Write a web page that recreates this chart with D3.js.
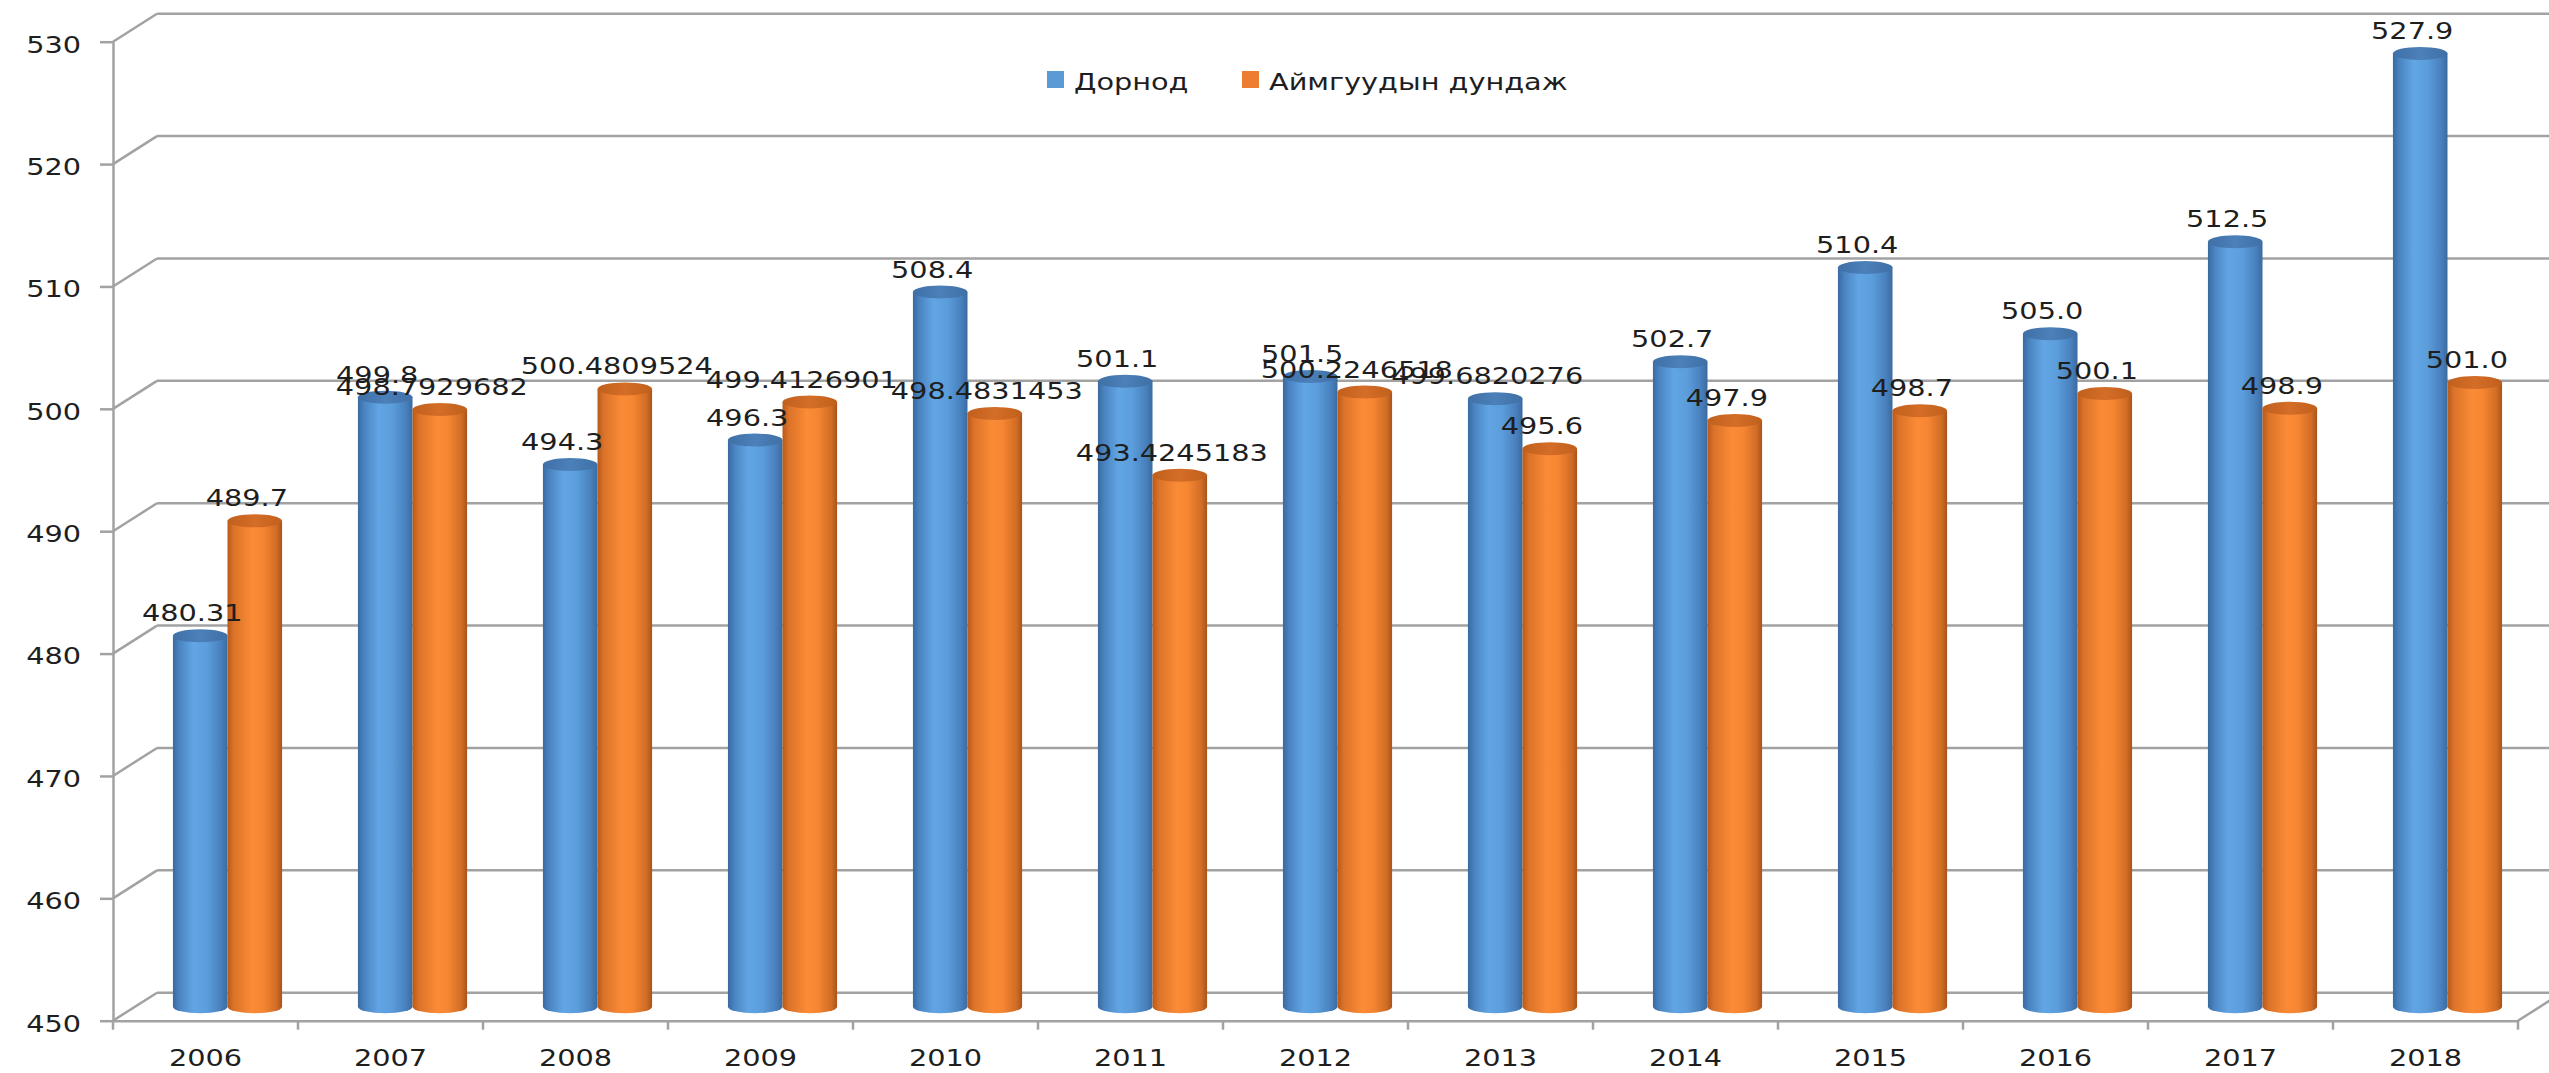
<!DOCTYPE html>
<html>
<head>
<meta charset="utf-8">
<script src="https://cdn.jsdelivr.net/npm/d3@7/dist/d3.min.js"></script>
<style>
  html, body { margin: 0; padding: 0; background: #ffffff; }
  svg { display: block; }
  text { font-family: "DejaVu Sans", Verdana, sans-serif; }
</style>
</head>
<body>
<svg id="chart" width="2549" height="1073"></svg>
<script>
// ---------------- data ----------------
const years = ["2006","2007","2008","2009","2010","2011","2012","2013","2014","2015","2016","2017","2018"];
const seriesNames = ["Дорнод", "Аймгуудын дундаж"];
const dornod = [480.31, 499.8, 494.3, 496.3, 508.4, 501.1, 501.5, 499.6820276, 502.7, 510.4, 505.0, 512.5, 527.9];
const average = [489.7, 498.7929682, 500.4809524, 499.4126901, 498.4831453, 493.4245183, 500.2246518, 495.6, 497.9, 498.7, 500.1, 498.9, 501.0];
const dornodLabels = ["480.31","499.8","494.3","496.3","508.4","501.1","501.5","499.6820276","502.7","510.4","505.0","512.5","527.9"];
const averageLabels = ["489.7","498.7929682","500.4809524","499.4126901","498.4831453","493.4245183","500.2246518","495.6","497.9","498.7","500.1","498.9","501.0"];
const yTicks = [450, 460, 470, 480, 490, 500, 510, 520, 530];

// ---------------- layout ----------------
const W = 2549, H = 1073;
const X0 = 113, X1 = 2518, YB = 1020.7, YT = 41.7;
const DX = 44, DY = -28;          // 3D depth offset
const SX = 1.25;                  // horizontal text stretch of the original
const FONT = 23;
const GRID = "#a2a2a2";
const TXT = "#1e1e1e";

const svg = d3.select("#chart");

const y = d3.scaleLinear().domain([450, 530]).range([YB, YT]);
const x = d3.scaleBand().domain(years).range([X0, X1]).paddingInner(0.41).paddingOuter(0.205);
const xs = d3.scaleBand().domain(["d", "a"]).range([0, x.bandwidth()]);

// ---------------- gradients ----------------
const defs = svg.append("defs");
function grad(id, stops) {
  const g = defs.append("linearGradient").attr("id", id).attr("x1", 0).attr("x2", 1).attr("y1", 0).attr("y2", 0);
  stops.forEach(s => g.append("stop").attr("offset", s[0]).attr("stop-color", s[1]));
}
grad("gBlue", [[0, "#3a6aa0"], [0.12, "#4a84c2"], [0.38, "#62a5e4"], [0.62, "#5c9edc"], [0.88, "#4880bd"], [1, "#3b6b9f"]]);
grad("gOrange", [[0, "#b85a1b"], [0.12, "#dc7329"], [0.45, "#fb8b36"], [0.65, "#f68632"], [0.9, "#d06c25"], [1, "#a9531a"]]);
grad("gBlueTop", [[0, "#3f70a6"], [0.5, "#4c80b9"], [1, "#3f70a6"]]);
grad("gOrangeTop", [[0, "#c0601d"], [0.5, "#d46d27"], [1, "#c0601d"]]);

// ---------------- walls / gridlines ----------------
const grid = svg.append("g");
yTicks.forEach(t => {
  grid.append("line")
    .attr("x1", X0 + DX).attr("x2", W + 30)
    .attr("y1", y(t) + DY).attr("y2", y(t) + DY)
    .attr("stroke", GRID).attr("stroke-width", 2.5);
  grid.append("line")
    .attr("x1", X0).attr("y1", y(t))
    .attr("x2", X0 + DX).attr("y2", y(t) + DY)
    .attr("stroke", GRID).attr("stroke-width", 2.5);
});
// right floor edge
grid.append("line")
  .attr("x1", X1).attr("y1", y(450))
  .attr("x2", X1 + DX).attr("y2", y(450) + DY)
  .attr("stroke", GRID).attr("stroke-width", 2.5);

// ---------------- axes ----------------
const yAxis = d3.axisLeft(y).tickValues(yTicks).tickSize(13).tickSizeOuter(0).tickFormat(d3.format("d"));
const gy = svg.append("g").attr("transform", `translate(${X0},0)`).call(yAxis);
gy.select(".domain").attr("stroke", GRID).attr("stroke-width", 2.5);
gy.selectAll(".tick line").attr("stroke", GRID).attr("stroke-width", 2.5);
gy.selectAll(".tick text")
  .attr("x", -32 / SX).attr("dy", "0.45em")
  .attr("transform", `scale(${SX},1)`)
  .attr("fill", TXT).style("font-size", FONT + "px").style("font-family", "DejaVu Sans, Verdana, sans-serif");

const xAxis = d3.axisBottom(x).tickSize(0).tickSizeOuter(0);
const gx = svg.append("g").attr("transform", `translate(0,${YB})`).call(xAxis);
gx.select(".domain").attr("stroke", GRID).attr("stroke-width", 2.5);
gx.selectAll(".tick text")
  .attr("y", 45).attr("dy", 0)
  .attr("transform", `scale(${SX},1)`)
  .attr("fill", TXT).style("font-size", FONT + "px").style("font-family", "DejaVu Sans, Verdana, sans-serif");
// category boundary ticks
const boundaries = d3.range(years.length + 1).map(i => X0 + i * x.step());
gx.selectAll(".btick").data(boundaries).join("line")
  .attr("class", "btick")
  .attr("x1", d => d).attr("x2", d => d)
  .attr("y1", 0).attr("y2", 9)
  .attr("stroke", GRID).attr("stroke-width", 2.5);

// ---------------- cylinders ----------------
const rx = xs.bandwidth() / 2;
const ry = 6.5;
const bars = [];
years.forEach((yr, i) => {
  bars.push({ yr, key: "d", v: dornod[i], label: dornodLabels[i], body: "url(#gBlue)", top: "url(#gBlueTop)" });
  bars.push({ yr, key: "a", v: average[i], label: averageLabels[i], body: "url(#gOrange)", top: "url(#gOrangeTop)" });
});
bars.forEach(b => {
  b.cx = x(b.yr) + xs(b.key) + xs.bandwidth() / 2 + DX / 2;
  b.top_y = y(b.v) + DY / 2;
  b.bot_y = y(450) + DY / 2;
});

const gBars = svg.append("g");
const cyl = gBars.selectAll("g.cyl").data(bars).join("g").attr("class", "cyl");
cyl.append("path")
  .attr("d", b => {
    const l = b.cx - rx, r = b.cx + rx;
    return `M${l},${b.top_y} L${l},${b.bot_y} A${rx},${ry} 0 0 0 ${r},${b.bot_y} L${r},${b.top_y} Z`;
  })
  .attr("fill", b => b.body);
cyl.append("ellipse")
  .attr("cx", b => b.cx).attr("cy", b => b.top_y)
  .attr("rx", rx).attr("ry", ry)
  .attr("fill", b => b.top);

// ---------------- data labels ----------------
svg.append("g").selectAll("text").data(bars).join("text")
  .attr("transform", b => `translate(${b.cx - 8},${b.top_y - 14.5}) scale(${SX},1)`)
  .attr("text-anchor", "middle")
  .attr("fill", TXT)
  .style("font-size", FONT + "px")
  .text(b => b.label);

// ---------------- legend ----------------
const legend = svg.append("g");
const legendItems = [
  { name: seriesNames[0], color: "#5b9bd5", x: 1047 },
  { name: seriesNames[1], color: "#ed7d31", x: 1242 }
];
legendItems.forEach(it => {
  legend.append("rect").attr("x", it.x).attr("y", 71).attr("width", 17).attr("height", 17).attr("fill", it.color);
  legend.append("text")
    .attr("transform", `translate(${it.x + 27},90) scale(${SX},1)`)
    .attr("fill", TXT).style("font-size", FONT + "px")
    .text(it.name);
});
</script>
</body>
</html>
